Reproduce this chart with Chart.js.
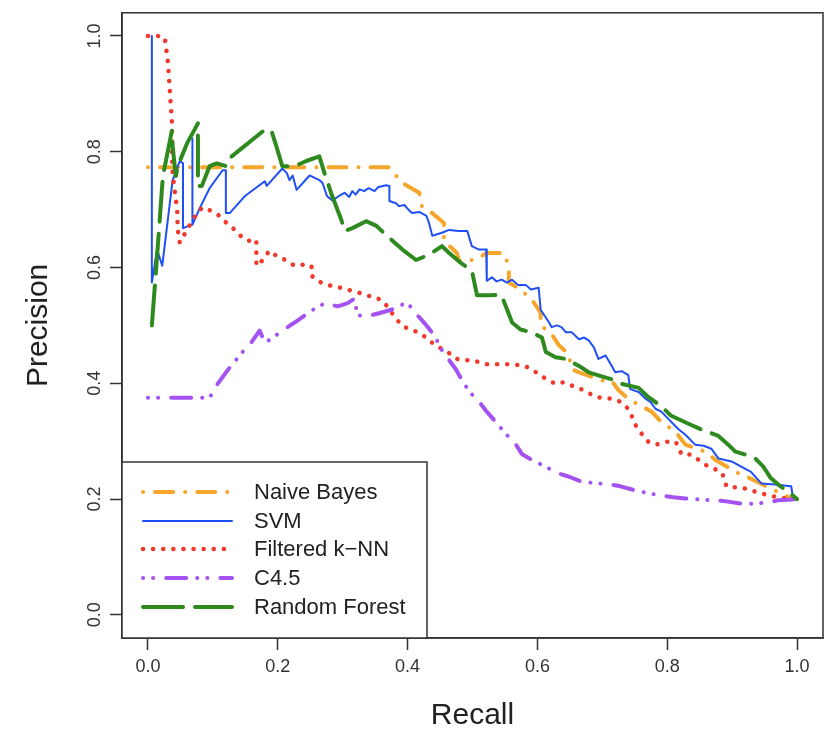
<!DOCTYPE html>
<html>
<head>
<meta charset="utf-8">
<script src="https://cdn.jsdelivr.net/npm/chart.js@4.4.1/dist/chart.umd.min.js"></script>
<style>
html,body{margin:0;padding:0;background:#fff;}
#wrap{width:833px;height:734px;}
</style>
</head>
<body>
<div id="wrap"><canvas id="c" width="833" height="734"></canvas></div>
<script>
// ---- data ----
const seriesNames = ['Naive Bayes', 'SVM', 'Filtered k\u2212NN', 'C4.5', 'Random Forest'];
const tickValues = [0, 0.2, 0.4, 0.6, 0.8, 1.0];
const tickLabels = ['0.0', '0.2', '0.4', '0.6', '0.8', '1.0'];

const nbRecall = [0, 0.372, 0.382, 0.392, 0.418, 0.422, 0.438, 0.456, 0.456, 0.476, 0.479, 0.504, 0.522, 0.548, 0.556, 0.556, 0.574, 0.591, 0.605, 0.605, 0.622, 0.633, 0.648, 0.653, 0.664, 0.699, 0.714, 0.725, 0.74, 0.756, 0.776, 0.791, 0.813, 0.828, 0.859, 0.874, 0.905, 0.929, 0.96, 0.991, 1.0];
const nbPrecision = [0.773, 0.773, 0.759, 0.746, 0.729, 0.706, 0.694, 0.677, 0.646, 0.625, 0.612, 0.613, 0.625, 0.625, 0.603, 0.574, 0.562, 0.545, 0.522, 0.5, 0.485, 0.466, 0.45, 0.424, 0.419, 0.405, 0.405, 0.388, 0.373, 0.363, 0.351, 0.333, 0.316, 0.294, 0.282, 0.268, 0.247, 0.235, 0.218, 0.201, 0.2];

const svmRecall = [0.006, 0.006, 0.014, 0.022, 0.038, 0.049, 0.054, 0.054, 0.068, 0.068, 0.069, 0.08, 0.095, 0.115, 0.12, 0.12, 0.126, 0.149, 0.18, 0.183, 0.207, 0.214, 0.218, 0.223, 0.229, 0.249, 0.264, 0.269, 0.276, 0.284, 0.295, 0.303, 0.31, 0.315, 0.32, 0.326, 0.333, 0.34, 0.349, 0.355, 0.367, 0.372, 0.372, 0.382, 0.387, 0.395, 0.402, 0.407, 0.418, 0.429, 0.433, 0.438, 0.453, 0.464, 0.479, 0.492, 0.499, 0.51, 0.521, 0.522, 0.53, 0.537, 0.545, 0.553, 0.561, 0.57, 0.582, 0.59, 0.602, 0.605, 0.618, 0.622, 0.63, 0.637, 0.644, 0.653, 0.664, 0.672, 0.679, 0.687, 0.694, 0.705, 0.714, 0.72, 0.73, 0.74, 0.743, 0.756, 0.767, 0.774, 0.782, 0.791, 0.802, 0.817, 0.828, 0.843, 0.856, 0.868, 0.879, 0.899, 0.914, 0.929, 0.945, 0.966, 0.991, 0.994, 1.0];
const svmPrecision = [1.0, 0.574, 0.631, 0.603, 0.751, 0.784, 0.78, 0.668, 0.674, 0.823, 0.674, 0.703, 0.737, 0.768, 0.768, 0.694, 0.694, 0.723, 0.749, 0.741, 0.771, 0.763, 0.751, 0.759, 0.734, 0.759, 0.751, 0.746, 0.723, 0.716, 0.724, 0.729, 0.722, 0.732, 0.726, 0.735, 0.732, 0.737, 0.732, 0.739, 0.742, 0.741, 0.715, 0.711, 0.706, 0.708, 0.699, 0.694, 0.696, 0.689, 0.677, 0.655, 0.66, 0.665, 0.663, 0.663, 0.637, 0.631, 0.631, 0.577, 0.583, 0.576, 0.579, 0.574, 0.579, 0.57, 0.57, 0.562, 0.565, 0.527, 0.505, 0.497, 0.5, 0.497, 0.488, 0.488, 0.476, 0.479, 0.474, 0.462, 0.442, 0.448, 0.431, 0.419, 0.421, 0.414, 0.39, 0.385, 0.373, 0.368, 0.356, 0.351, 0.338, 0.321, 0.311, 0.294, 0.292, 0.287, 0.27, 0.265, 0.256, 0.247, 0.227, 0.225, 0.222, 0.201, 0.2];

const knnRecall = [0, 0.015, 0.026, 0.031, 0.034, 0.037, 0.037, 0.038, 0.041, 0.045, 0.046, 0.049, 0.061, 0.074, 0.084, 0.095, 0.108, 0.118, 0.131, 0.141, 0.154, 0.167, 0.167, 0.177, 0.187, 0.198, 0.214, 0.226, 0.241, 0.252, 0.252, 0.261, 0.275, 0.29, 0.306, 0.321, 0.336, 0.352, 0.364, 0.372, 0.384, 0.395, 0.407, 0.415, 0.429, 0.441, 0.467, 0.476, 0.487, 0.499, 0.522, 0.553, 0.579, 0.591, 0.602, 0.614, 0.628, 0.641, 0.651, 0.667, 0.676, 0.691, 0.717, 0.728, 0.74, 0.745, 0.748, 0.756, 0.763, 0.771, 0.783, 0.799, 0.813, 0.817, 0.822, 0.836, 0.848, 0.859, 0.871, 0.883, 0.889, 0.891, 0.906, 0.922, 0.935, 0.951, 0.966, 0.983, 1.0];
const knnPrecision = [1.0, 1.0, 0.997, 0.952, 0.9, 0.849, 0.797, 0.763, 0.734, 0.699, 0.665, 0.643, 0.667, 0.691, 0.704, 0.699, 0.691, 0.68, 0.668, 0.656, 0.646, 0.648, 0.603, 0.613, 0.629, 0.62, 0.612, 0.603, 0.605, 0.603, 0.586, 0.577, 0.57, 0.567, 0.562, 0.558, 0.552, 0.548, 0.54, 0.527, 0.509, 0.497, 0.493, 0.488, 0.479, 0.467, 0.45, 0.442, 0.44, 0.44, 0.433, 0.433, 0.431, 0.424, 0.416, 0.407, 0.399, 0.402, 0.397, 0.39, 0.385, 0.376, 0.373, 0.368, 0.356, 0.345, 0.333, 0.32, 0.309, 0.299, 0.294, 0.299, 0.299, 0.29, 0.277, 0.277, 0.268, 0.259, 0.253, 0.247, 0.235, 0.222, 0.22, 0.218, 0.213, 0.208, 0.204, 0.201, 0.2];

const c45Recall = [0, 0.095, 0.106, 0.123, 0.134, 0.144, 0.157, 0.172, 0.18, 0.19, 0.203, 0.226, 0.241, 0.257, 0.272, 0.28, 0.292, 0.307, 0.318, 0.323, 0.341, 0.356, 0.375, 0.392, 0.402, 0.407, 0.418, 0.429, 0.441, 0.453, 0.464, 0.475, 0.487, 0.499, 0.513, 0.522, 0.536, 0.551, 0.567, 0.576, 0.591, 0.607, 0.633, 0.648, 0.668, 0.694, 0.714, 0.728, 0.751, 0.771, 0.791, 0.809, 0.828, 0.853, 0.873, 0.891, 0.914, 0.929, 0.955, 0.971, 0.986, 1.0];
const c45Precision = [0.375, 0.375, 0.397, 0.423, 0.438, 0.452, 0.467, 0.491, 0.471, 0.476, 0.488, 0.505, 0.517, 0.529, 0.538, 0.536, 0.533, 0.538, 0.546, 0.517, 0.517, 0.521, 0.527, 0.536, 0.538, 0.526, 0.514, 0.5, 0.483, 0.457, 0.44, 0.423, 0.399, 0.381, 0.364, 0.351, 0.333, 0.313, 0.294, 0.278, 0.268, 0.259, 0.244, 0.239, 0.23, 0.227, 0.225, 0.222, 0.215, 0.21, 0.206, 0.203, 0.201, 0.199, 0.198, 0.196, 0.192, 0.192, 0.194, 0.198, 0.199, 0.2];

const rfRecall = [0.006, 0.011, 0.017, 0.023, 0.037, 0.038, 0.043, 0.046, 0.06, 0.077, 0.077, 0.083, 0.095, 0.106, 0.121, 0.129, 0.18, 0.19, 0.198, 0.207, 0.226, 0.244, 0.264, 0.272, 0.284, 0.298, 0.303, 0.315, 0.336, 0.352, 0.367, 0.392, 0.413, 0.433, 0.453, 0.464, 0.482, 0.499, 0.507, 0.525, 0.544, 0.551, 0.561, 0.574, 0.591, 0.607, 0.613, 0.628, 0.644, 0.664, 0.679, 0.699, 0.714, 0.73, 0.756, 0.771, 0.79, 0.806, 0.837, 0.853, 0.879, 0.894, 0.905, 0.92, 0.935, 0.948, 0.959, 0.971, 0.986, 1.0];
const rfPrecision = [0.5, 0.574, 0.665, 0.758, 0.837, 0.809, 0.758, 0.775, 0.814, 0.849, 0.741, 0.741, 0.775, 0.78, 0.775, 0.792, 0.838, 0.837, 0.809, 0.775, 0.775, 0.784, 0.792, 0.763, 0.723, 0.682, 0.663, 0.668, 0.68, 0.672, 0.656, 0.631, 0.613, 0.622, 0.637, 0.625, 0.608, 0.595, 0.552, 0.552, 0.553, 0.534, 0.505, 0.493, 0.488, 0.479, 0.454, 0.445, 0.442, 0.43, 0.419, 0.412, 0.407, 0.399, 0.392, 0.376, 0.361, 0.344, 0.328, 0.32, 0.309, 0.294, 0.282, 0.277, 0.271, 0.256, 0.237, 0.225, 0.213, 0.2];

// ---- styling ----
const FONT = "'Liberation Sans', Arial, Helvetica, sans-serif";
const styles = [
  {color: '#F5A62B', width: 4, dash: [0.1, 12, 18, 12]},
  {color: '#1F4FF5', width: 2, dash: []},
  {color: '#F0392C', width: 4.5, dash: [0.1, 10]},
  {color: '#A452F2', width: 4, dash: [0.1, 10, 0.1, 13, 20, 11]},
  {color: '#2E8A1F', width: 4, dash: [40, 12]}
];
const xs = [nbRecall, svmRecall, knnRecall, c45Recall, rfRecall];
const ys = [nbPrecision, svmPrecision, knnPrecision, c45Precision, rfPrecision];

const datasets = seriesNames.map((name, i) => ({
  label: name,
  data: xs[i].map((x, k) => ({x: x, y: ys[i][k]})),
  showLine: true,
  borderColor: styles[i].color,
  backgroundColor: styles[i].color,
  borderWidth: styles[i].width,
  borderDash: styles[i].dash,
  borderCapStyle: 'round',
  borderJoinStyle: 'round',
  pointRadius: 0,
  pointHoverRadius: 0,
  tension: 0,
  fill: false,
  order: seriesNames.length - i
}));

const boxPlugin = {
  id: 'rbox',
  afterDraw(chart) {
    const ctx = chart.ctx;
    const a = chart.chartArea;
    ctx.save();
    ctx.setLineDash([]);
    ctx.strokeStyle = '#333';
    ctx.lineWidth = 1.5;
    ctx.strokeRect(a.left, a.top, a.right - a.left, a.bottom - a.top);

    // legend
    const lx = a.left, ly = 462, lw = 305, lh = a.bottom - 462;
    ctx.fillStyle = '#fff';
    ctx.fillRect(lx, ly, lw, lh);
    ctx.strokeRect(lx, ly, lw, lh);
    const rowY = [492, 521, 549, 578, 607];
    chart.data.datasets.forEach((ds, i) => {
      ctx.save();
      ctx.strokeStyle = ds.borderColor;
      ctx.lineWidth = ds.borderWidth;
      ctx.lineCap = 'round';
      ctx.setLineDash(ds.borderDash);
      ctx.beginPath();
      ctx.moveTo(143, rowY[i]);
      ctx.lineTo(232, rowY[i]);
      ctx.stroke();
      ctx.restore();
      ctx.fillStyle = '#222';
      ctx.font = '22px ' + FONT;
      ctx.textAlign = 'left';
      ctx.textBaseline = 'middle';
      ctx.fillText(ds.label, 254, rowY[i] + 1);
    });
    ctx.restore();
  }
};

const setTicks = (scale) => { scale.ticks = tickValues.map(v => ({value: v})); };

new Chart(document.getElementById('c'), {
  type: 'scatter',
  data: {datasets},
  options: {
    responsive: false,
    animation: false,
    events: [],
    layout: {padding: {left: 0, top: 9, right: 10, bottom: 0}},
    plugins: {legend: {display: false}, tooltip: {enabled: false}},
    scales: {
      x: {
        type: 'linear', min: -0.04, max: 1.04,
        afterBuildTicks: setTicks,
        afterFit: (s) => { s.height = 734 - 638; },
        grid: {drawOnChartArea: false, drawTicks: true, tickLength: 12, tickColor: '#333', tickWidth: 1.5},
        border: {display: true, color: '#333', width: 1.5},
        ticks: {autoSkip: false, maxRotation: 0, padding: 6, color: '#333',
                font: {family: FONT, size: 18},
                callback: (v) => tickLabels[tickValues.findIndex(t => Math.abs(t - v) < 1e-6)]},
        title: {display: true, text: 'Recall', color: '#222', font: {family: FONT, size: 30}, padding: {top: 0, bottom: 0}}
      },
      y: {
        type: 'linear', min: -0.04, max: 1.04,
        afterBuildTicks: setTicks,
        afterFit: (s) => { s.width = 122; },
        grid: {drawOnChartArea: false, drawTicks: true, tickLength: 12, tickColor: '#333', tickWidth: 1.5},
        border: {display: true, color: '#333', width: 1.5},
        ticks: {autoSkip: false, minRotation: 90, maxRotation: 90, crossAlign: 'center', padding: 2, color: '#333',
                font: {family: FONT, size: 18},
                callback: (v) => tickLabels[tickValues.findIndex(t => Math.abs(t - v) < 1e-6)]},
        title: {display: true, text: 'Precision', color: '#222', font: {family: FONT, size: 30}, padding: {top: 21, bottom: 0}}
      }
    }
  },
  plugins: [boxPlugin]
});
</script>
</body>
</html>
